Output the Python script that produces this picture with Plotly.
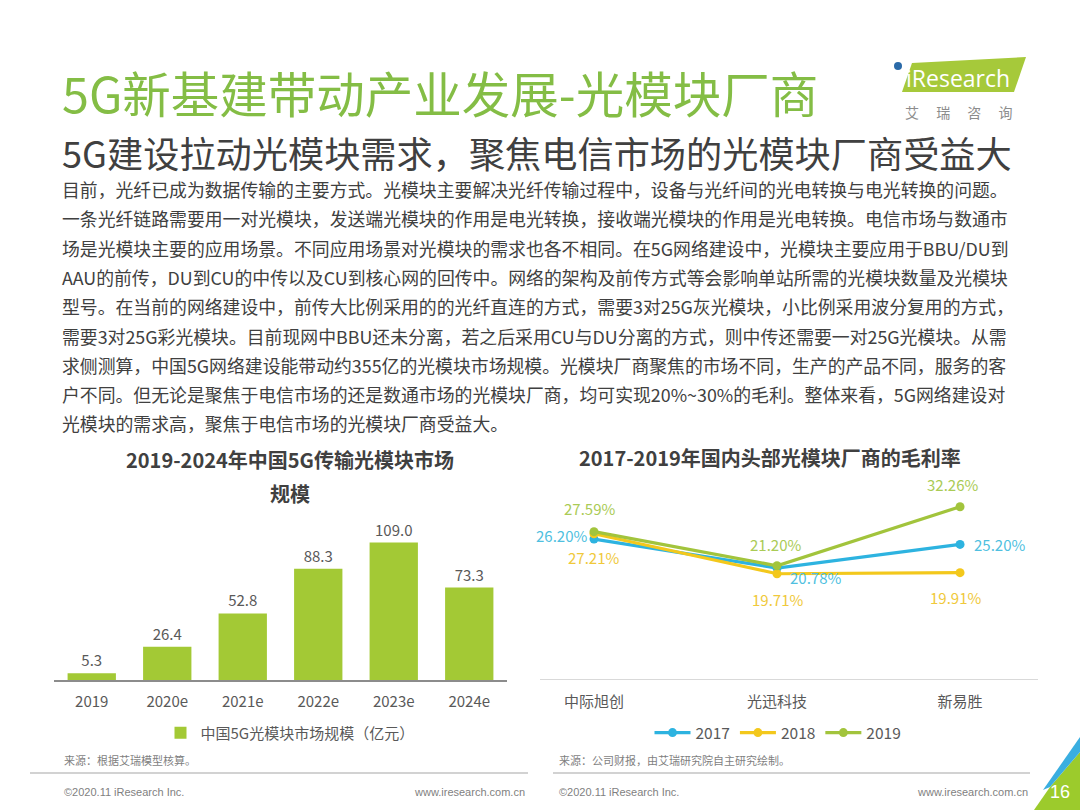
import plotly.graph_objects as go

W, H = 1080, 810
FONT = "Noto Sans CJK SC"

# ---------------- data ----------------
bar_categories = ["2019", "2020e", "2021e", "2022e", "2023e", "2024e"]
bar_values = [5.3, 26.4, 52.8, 88.3, 109.0, 73.3]
bar_series_name = "中国5G光模块市场规模（亿元）"

line_categories = ["中际旭创", "光迅科技", "新易胜"]
years = ["2017", "2018", "2019"]
margin_2017 = [26.20, 20.78, 25.20]
margin_2018 = [27.21, 19.71, 19.91]
margin_2019 = [27.59, 21.20, 32.26]

title_text = "5G新基建带动产业发展-光模块厂商"
subtitle_text = "5G建设拉动光模块需求，聚焦电信市场的光模块厂商受益大"
body_lines = [
    "目前，光纤已成为数据传输的主要方式。光模块主要解决光纤传输过程中，设备与光纤间的光电转换与电光转换的问题。",
    "一条光纤链路需要用一对光模块，发送端光模块的作用是电光转换，接收端光模块的作用是光电转换。电信市场与数通市",
    "场是光模块主要的应用场景。不同应用场景对光模块的需求也各不相同。在5G网络建设中，光模块主要应用于BBU/DU到",
    "AAU的前传，DU到CU的中传以及CU到核心网的回传中。网络的架构及前传方式等会影响单站所需的光模块数量及光模块",
    "型号。在当前的网络建设中，前传大比例采用的的光纤直连的方式，需要3对25G灰光模块，小比例采用波分复用的方式，",
    "需要3对25G彩光模块。目前现网中BBU还未分离，若之后采用CU与DU分离的方式，则中传还需要一对25G光模块。从需",
    "求侧测算，中国5G网络建设能带动约355亿的光模块市场规模。光模块厂商聚焦的市场不同，生产的产品不同，服务的客",
    "户不同。但无论是聚焦于电信市场的还是数通市场的光模块厂商，均可实现20%~30%的毛利。整体来看，5G网络建设对",
    "光模块的需求高，聚焦于电信市场的光模块厂商受益大。",
]
bar_chart_title_lines = ["2019-2024年中国5G传输光模块市场", "规模"]
line_chart_title = "2017-2019年国内头部光模块厂商的毛利率"
source_left = "来源：根据艾瑞模型核算。"
source_right = "来源：公司财报，由艾瑞研究院自主研究绘制。"
copyright_text = "©2020.11 iResearch Inc."
website_text = "www.iresearch.com.cn"
page_number = "16"

# ---------------- styles ----------------
BAR_GREEN = "#a3c935"
TITLE_GREEN = "#84bd45"
C2017, C2018, C2019 = "#2db3e0", "#f3c81c", "#a2c43c"
L2017, L2018, L2019 = "#4fbfe0", "#f0c93a", "#aacb55"
TEXT_DARK = "#404040"
TEXT_MID = "#595959"
TEXT_LIGHT = "#7f7f7f"


def px(x):
    return x / W


def py(y):
    return 1 - y / H


fig = go.Figure()

# bar chart
fig.add_trace(go.Bar(
    x=bar_categories, y=bar_values, name=bar_series_name,
    marker=dict(color=BAR_GREEN, line=dict(width=0)),
    text=[f"{v:.1f}" for v in bar_values], textposition="outside",
    textfont=dict(family=FONT, size=15, color=TEXT_MID),
    cliponaxis=False, xaxis="x", yaxis="y", legend="legend",
))

# line chart
series = [
    (years[0], margin_2017, C2017),
    (years[1], margin_2018, C2018),
    (years[2], margin_2019, C2019),
]
for name, vals, col in series:
    fig.add_trace(go.Scatter(
        x=line_categories, y=vals, name=name, mode="lines+markers",
        line=dict(color=col, width=3.2),
        marker=dict(color=col, size=9),
        xaxis="x2", yaxis="y2", legend="legend2", cliponaxis=False,
    ))

annotations = []
label_specs = [
    (margin_2017, L2017, ["right", "center", "left"], [-5, 38, 12], [4, -9, 0]),
    (margin_2018, L2018, ["center", "center", "center"], [0, 0, -5], [-24, -26, -25]),
    (margin_2019, L2019, ["center", "center", "center"], [-4, -2, -8], [23, 21, 22]),
]
for vals, col, anchors, xs, ys in label_specs:
    for cat, v, a, dx, dy in zip(line_categories, vals, anchors, xs, ys):
        annotations.append(dict(
            x=cat, y=v, xref="x2", yref="y2", text=f"{v:.2f}%",
            showarrow=False, xanchor=a, yanchor="middle", xshift=dx, yshift=dy,
            font=dict(family=FONT, size=15, color=col),
        ))

# titles
annotations.append(dict(x=px(60), y=py(92), xref="paper", yref="paper", text=title_text,
                        showarrow=False, xanchor="left", yanchor="middle",
                        font=dict(family=FONT, size=48.5, color=TITLE_GREEN)))
annotations.append(dict(x=px(60), y=py(152), xref="paper", yref="paper", text=subtitle_text,
                        showarrow=False, xanchor="left", yanchor="middle",
                        font=dict(family=FONT, size=36.2, color=TEXT_DARK)))
for i, line in enumerate(body_lines):
    annotations.append(dict(x=px(60), y=py(189 + i * 29.3), xref="paper", yref="paper", text=line,
                            showarrow=False, xanchor="left", yanchor="middle",
                            font=dict(family=FONT, size=17.85, color=TEXT_DARK)))

for i, t in enumerate(bar_chart_title_lines):
    annotations.append(dict(x=px(290), y=py(459 + 35 * i), xref="paper", yref="paper", text="<b>" + t + "</b>",
                            showarrow=False, xanchor="center", yanchor="middle",
                            font=dict(family=FONT, size=20, color=TEXT_DARK)))
annotations.append(dict(x=px(770), y=py(457), xref="paper", yref="paper", text="<b>" + line_chart_title + "</b>",
                        showarrow=False, xanchor="center", yanchor="middle",
                        font=dict(family=FONT, size=20, color=TEXT_DARK)))

# sources & footer
for x0, t in [(62, source_left), (557, source_right)]:
    annotations.append(dict(x=px(x0), y=py(760), xref="paper", yref="paper", text=t,
                            showarrow=False, xanchor="left", yanchor="middle",
                            font=dict(family=FONT, size=11, color=TEXT_LIGHT)))
for x0, x1 in [(62, 527), (557, 1030)]:
    annotations.append(dict(x=px(x0), y=py(792), xref="paper", yref="paper", text=copyright_text,
                            showarrow=False, xanchor="left", yanchor="middle",
                            font=dict(family="Liberation Sans", size=11, color=TEXT_LIGHT)))
    annotations.append(dict(x=px(x1), y=py(792), xref="paper", yref="paper", text=website_text,
                            showarrow=False, xanchor="right", yanchor="middle",
                            font=dict(family="Liberation Sans", size=11, color=TEXT_LIGHT)))

# logo text
annotations.append(dict(x=px(958), y=py(78), xref="paper", yref="paper", text="iResearch",
                        showarrow=False, xanchor="center", yanchor="middle",
                        font=dict(family="Open Sans", size=23, color="white")))
annotations.append(dict(x=px(958), y=py(112), xref="paper", yref="paper", text="艾　 瑞　 咨　 询",
                        showarrow=False, xanchor="center", yanchor="middle",
                        font=dict(family=FONT, size=14, color="#8c8c8c")))
annotations.append(dict(x=px(1060), y=py(792), xref="paper", yref="paper", text=page_number,
                        showarrow=False, xanchor="center", yanchor="middle",
                        font=dict(family="Liberation Sans", size=18, color="white")))


def path(points):
    return "M " + " L ".join(f"{px(a):.5f},{py(b):.5f}" for a, b in points) + " Z"


shapes = [
    dict(type="path", xref="paper", yref="paper", path=path([(912, 63), (1026, 57), (1014, 92), (902, 92)]),
         fillcolor="#a6c93a", line=dict(width=0), layer="below"),
    dict(type="circle", xref="paper", yref="paper", x0=px(894), x1=px(902), y0=py(62), y1=py(70),
         fillcolor="#2a6aa8", line=dict(width=0)),
    dict(type="line", xref="paper", yref="paper", x0=px(30), x1=px(528), y0=py(773), y1=py(773),
         line=dict(color="#a6a6a6", width=1.2)),
    dict(type="line", xref="paper", yref="paper", x0=px(553), x1=px(1030), y0=py(773), y1=py(773),
         line=dict(color="#a6a6a6", width=1.2)),
    dict(type="path", xref="paper", yref="paper", path=path([(1080, 752), (1080, 810), (1034, 810), (1050, 787)]),
         fillcolor="#9ccb2c", line=dict(width=0), layer="below"),
    dict(type="path", xref="paper", yref="paper", path=path([(1080, 737), (1080, 752), (1050, 787), (1043, 790)]),
         fillcolor="#3aaee0", line=dict(width=0), layer="below"),
]

fig.update_layout(
    width=W, height=H, margin=dict(l=0, r=0, t=0, b=0),
    paper_bgcolor="white", plot_bgcolor="rgba(0,0,0,0)",
    font=dict(family=FONT, color=TEXT_MID),
    bargap=0.36, showlegend=True,
    xaxis=dict(domain=[px(54), px(507)], anchor="y", type="category",
               showline=True, linecolor="#8c8c8c", linewidth=1.5, ticks="",
               ticklabelstandoff=7, tickfont=dict(family=FONT, size=15, color=TEXT_MID),
               showgrid=False, zeroline=False, fixedrange=True),
    yaxis=dict(domain=[py(680), py(530)], anchor="x", range=[0, 119.0], visible=False,
               showgrid=False, zeroline=False),
    xaxis2=dict(domain=[px(540), px(1038)], anchor="y2", type="category", range=[-0.295, 2.426],
                showline=True, linecolor="#d9d9d9", linewidth=1.2, ticks="",
                ticklabelstandoff=9, tickfont=dict(family=FONT, size=15, color=TEXT_MID),
                showgrid=False, zeroline=False),
    yaxis2=dict(domain=[py(679), py(470)], anchor="x2", range=[0, 39.14], visible=False,
                showgrid=False, zeroline=False),
    legend=dict(x=px(290), y=py(733), xanchor="center", yanchor="middle", orientation="h",
                font=dict(family=FONT, size=15, color=TEXT_MID), bgcolor="rgba(0,0,0,0)",
                itemwidth=30),
    legend2=dict(x=px(778), y=py(733), xanchor="center", yanchor="middle", orientation="h",
                 font=dict(family=FONT, size=15.5, color=TEXT_MID), bgcolor="rgba(0,0,0,0)",
                 itemwidth=36, tracegroupgap=0),
    annotations=annotations, shapes=shapes,
)

fig.write_html("out.html", config={"displayModeBar": False},
               post_script="document.body.style.margin='0';document.body.style.overflow='hidden';")
